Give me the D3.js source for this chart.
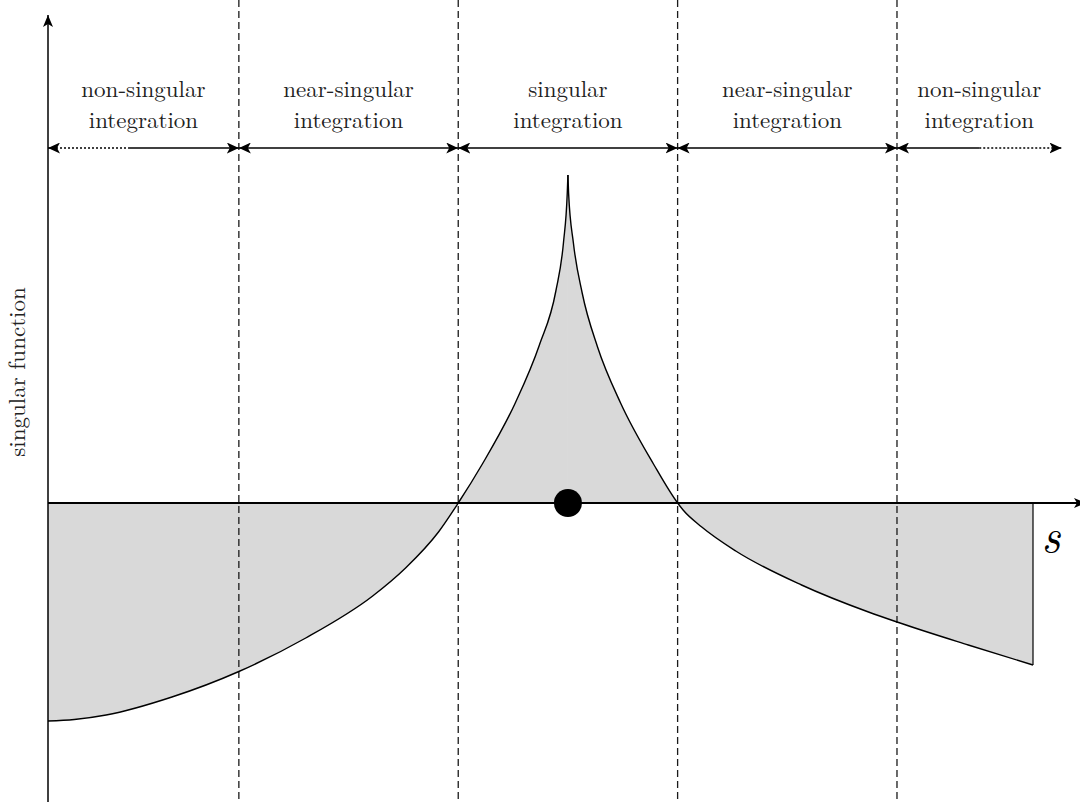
<!DOCTYPE html>
<html>
<head>
<meta charset="utf-8">
<script src="https://cdn.jsdelivr.net/npm/d3@7"></script>
<style>
  body { margin: 0; background: #fff; }
  svg { display: block; }
</style>
</head>
<body>
<svg id="chart" width="1080" height="802"></svg>
<script>
// arc-length coordinate s, the singular (source) point sits at s = 0
const sVals = [-4.74, -4.5, -4.21, -3.61, -3.0, -2.39, -1.78, -1.48, -1.18, -1.0,
  -0.78, -0.48, -0.26, -0.11, -0.04, -0.006, 0, 0.006, 0.05, 0.13, 0.27, 0.48, 0.78, 1.0,
  1.05, 1.22, 1.53, 2.13, 2.74, 3.0, 3.65, 4.24];
const fVals = [-2.18, -2.165, -2.12, -1.94, -1.685, -1.35, -0.93, -0.65, -0.29, 0,
  0.39, 1.00, 1.58, 2.12, 2.61, 3.10, 3.28, 3.10, 2.60, 2.10, 1.56, 1.00, 0.39, 0,
  -0.07, -0.24, -0.48, -0.82, -1.09, -1.19, -1.42, -1.62];

const sourcePoint = 0;

// integration zones
const zoneBounds = [-4.74, -3, -1, 1, 3, 4.5];
const zoneLine1 = ["non-singular", "near-singular", "singular", "near-singular", "non-singular"];
const zoneLine2 = ["integration", "integration", "integration", "integration", "integration"];
// where the outer arrows fade into dots
const fadeLeft = -4.01;
const fadeRight = 3.75;

const axisLabelY = "singular function";
const axisLabelX = "s";

const W = 1080, H = 802;
const FONT = '"Latin Modern Roman"';
const svg = d3.select("#chart");

const x = d3.scaleLinear().domain([-4.74, 4.24]).range([48, 1033]);
const y = d3.scaleLinear().domain([-2.18, 3.28]).range([721, 175]);

const pts = sVals.map((s, i) => ({ s: s, f: fVals[i] }));
// split at the cusp so the peak stays sharp; each branch is monotone
const peakIdx = sVals.indexOf(sourcePoint);
const branches = [pts.slice(0, peakIdx + 1), pts.slice(peakIdx)];

// markers
const defs = svg.append("defs");
function addMarker(id, len, wid) {
  defs.append("marker")
    .attr("id", id)
    .attr("viewBox", `0 0 ${len} ${wid}`)
    .attr("refX", len)
    .attr("refY", wid / 2)
    .attr("markerUnits", "userSpaceOnUse")
    .attr("markerWidth", len)
    .attr("markerHeight", wid)
    .attr("orient", "auto-start-reverse")
    .append("path")
    .attr("d", `M0,0 L${len},${wid / 2} L0,${wid} L${len * 0.25},${wid / 2} Z`)
    .attr("fill", "#000");
}
addMarker("head", 12, 11);
addMarker("axhead", 12, 10);

const smooth = d3.curveMonotoneX;

// shaded area between the function and s-axis
const area = d3.area()
  .x(d => x(d.s))
  .y0(y(0))
  .y1(d => y(d.f))
  .curve(smooth);

svg.append("g")
  .selectAll("path")
  .data(branches)
  .join("path")
  .attr("d", area)
  .attr("fill", "#d9d9d9");

// zone boundaries
svg.append("g")
  .selectAll("line")
  .data(zoneBounds.slice(1, -1))
  .join("line")
  .attr("x1", d => x(d)).attr("x2", d => x(d))
  .attr("y1", 0).attr("y2", H)
  .attr("stroke", "#1a1a1a")
  .attr("stroke-width", 1.3)
  .attr("stroke-dasharray", "7,4");

// axes
svg.append("line")
  .attr("x1", x(-4.74)).attr("x2", x(-4.74))
  .attr("y1", H).attr("y2", 15)
  .attr("stroke", "#000").attr("stroke-width", 1.5)
  .attr("marker-end", "url(#axhead)");

svg.append("line")
  .attr("x1", x(-4.74)).attr("x2", 1086)
  .attr("y1", y(0)).attr("y2", y(0))
  .attr("stroke", "#000").attr("stroke-width", 1.8)
  .attr("marker-end", "url(#axhead)");

// function curve
const curve = d3.line()
  .x(d => x(d.s))
  .y(d => y(d.f))
  .curve(smooth);

svg.append("g")
  .selectAll("path")
  .data(branches)
  .join("path")
  .attr("d", curve)
  .attr("fill", "none")
  .attr("stroke", "#000")
  .attr("stroke-width", 1.4);

const last = pts[pts.length - 1];
svg.append("line")
  .attr("x1", x(last.s)).attr("x2", x(last.s))
  .attr("y1", y(0)).attr("y2", y(last.f))
  .attr("stroke", "#000").attr("stroke-width", 1.2);

// source point
svg.append("circle")
  .attr("cx", x(sourcePoint)).attr("cy", y(0))
  .attr("r", 14)
  .attr("fill", "#000");

// zone arrows
const arrowY = 148;
const zones = zoneLine1.map((t, i) => ({ a: zoneBounds[i], b: zoneBounds[i + 1], t1: t, t2: zoneLine2[i], i: i }));
const ga = svg.append("g");

function seg(a, b, dotted, start, end) {
  const l = ga.append("line")
    .attr("x1", x(a)).attr("x2", x(b))
    .attr("y1", arrowY).attr("y2", arrowY)
    .attr("stroke", "#000").attr("stroke-width", 1.4);
  if (dotted) l.attr("stroke-dasharray", "2,2");
  if (start) l.attr("marker-start", "url(#head)");
  if (end) l.attr("marker-end", "url(#head)");
}

zones.forEach(z => {
  if (z.i === 0) {
    seg(z.a, fadeLeft, true, true, false);
    seg(fadeLeft, z.b, false, false, true);
  } else if (z.i === zones.length - 1) {
    seg(z.a, fadeRight, false, true, false);
    seg(fadeRight, z.b, true, false, true);
  } else {
    seg(z.a, z.b, false, true, true);
  }
  const cx = x((z.a + z.b) / 2);
  const tx = ga.append("text")
    .attr("x", cx)
    .attr("text-anchor", "middle")
    .style("font-family", FONT)
    .style("font-size", "23px")
    .attr("fill", "#222");
  tx.append("tspan").attr("x", cx).attr("y", 97).text(z.t1);
  tx.append("tspan").attr("x", cx).attr("y", 128).text(z.t2);
});

// axis labels
svg.append("text")
  .attr("transform", "translate(25,372) rotate(-90)")
  .attr("text-anchor", "middle")
  .style("font-family", FONT)
  .style("font-size", "23px")
  .attr("fill", "#222")
  .text(axisLabelY);

svg.append("text")
  .attr("x", 1051).attr("y", 552)
  .attr("text-anchor", "middle")
  .style("font-family", FONT)
  .style("font-style", "italic")
  .style("font-size", "46px")
  .attr("fill", "#000")
  .text(axisLabelX);
</script>
</body>
</html>
